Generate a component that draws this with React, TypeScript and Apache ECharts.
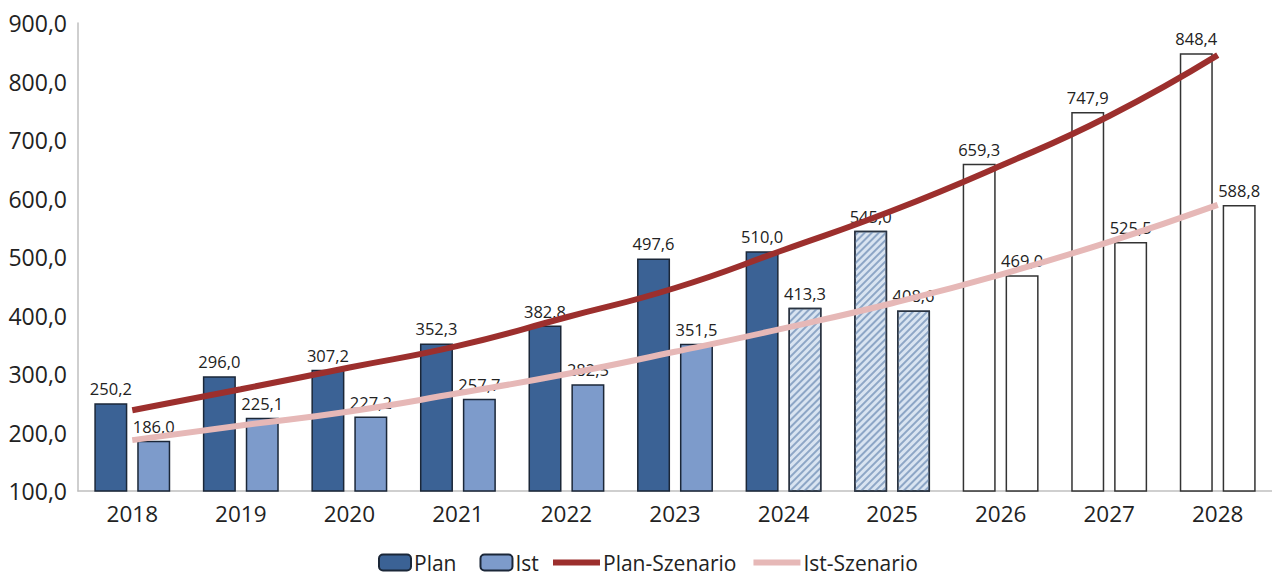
import React, { useEffect, useRef } from "react";
import * as echarts from "echarts";

const years = ["2018", "2019", "2020", "2021", "2022", "2023", "2024", "2025", "2026", "2027", "2028"];
const planValues = [250.2, 296.0, 307.2, 352.3, 382.8, 497.6, 510.0, 545.0, 659.3, 747.9, 848.4];
const istValues = [186.0, 225.1, 227.2, 257.7, 282.5, 351.5, 413.3, 408.6, 469.0, 525.5, 588.8];
const planTrend = [238, 274, 311, 348, 397, 447, 512, 579, 656, 741, 845];
const istTrend = [187, 212, 236, 267, 300, 338, 378, 421, 470, 526, 589];
const yTicks = { min: 100, max: 900, interval: 100 };

// classification of each bar: "solid", "hatched", "open"
const planKind = ["solid", "solid", "solid", "solid", "solid", "solid", "solid", "hatched", "open", "open", "open"];
const istKind = ["solid", "solid", "solid", "solid", "solid", "solid", "hatched", "hatched", "open", "open", "open"];

const FONT = "Open Sans";
const fmt = (v: number) => v.toFixed(1).replace(".", ",");

const hatchStyle = {
  color: "#D9E4F1",
  borderColor: "#2B3442",
  borderWidth: 1.5,
  decal: {
    symbol: "rect",
    symbolSize: 1,
    color: "#8DA6C6",
    dashArrayX: [1, 0],
    dashArrayY: [1.2, 2.2],
    rotation: -Math.PI / 4,
  },
};
const openStyle = { color: "#FFFFFF", borderColor: "#333333", borderWidth: 1.5 };

function build(values: number[], kinds: string[], solidColor: string) {
  return values.map((v, i) => {
    const k = kinds[i];
    let itemStyle: any = { color: solidColor, borderColor: "#1B2738", borderWidth: 1.5 };
    if (k === "hatched") itemStyle = hatchStyle;
    if (k === "open") itemStyle = openStyle;
    return { value: v, itemStyle };
  });
}

export default function App() {
  const ref = useRef<HTMLDivElement>(null);
  useEffect(() => {
    if (!ref.current) return;
    const chart = echarts.init(ref.current, null, { renderer: "svg" });
    const label = {
      show: true,
      position: "top",
      distance: 6,
      formatter: (p: any) => fmt(p.value),
      fontFamily: FONT,
      fontSize: 16.5,
      color: "#222222",
    };
    const legendText = { fontFamily: FONT, fontSize: 21, lineHeight: 20, color: "#222222", padding: [0, 0, 0, -2] };
    chart.setOption({
      animation: false,
      backgroundColor: "#FFFFFF",
      textStyle: { fontFamily: FONT },
      grid: { left: 78, right: -6, top: 23, bottom: 85, containLabel: false },
      legend: [
        {
          data: ["Plan", "Ist"],
          left: 378,
          top: 552,
          padding: 0,
          itemWidth: 32,
          itemHeight: 16,
          itemGap: 23,
          textStyle: legendText,
        },
        {
          data: [
            { name: "Plan-Szenario", icon: "rect" },
            { name: "Ist-Szenario", icon: "rect" },
          ],
          left: 553,
          top: 552,
          padding: 0,
          itemWidth: 47,
          itemHeight: 6,
          itemGap: 17,
          textStyle: legendText,
        },
      ],
      xAxis: {
        type: "category",
        data: years,
        axisTick: { show: false },
        axisLine: { show: true, lineStyle: { color: "#BFBFBF", width: 1.5 } },
        axisLabel: { fontFamily: FONT, fontSize: 22.5, color: "#222222", margin: 11 },
      },
      yAxis: {
        type: "value",
        min: yTicks.min,
        max: yTicks.max,
        interval: yTicks.interval,
        axisLine: { show: true, lineStyle: { color: "#BFBFBF", width: 1.5 } },
        axisTick: { show: false },
        splitLine: { show: false },
        axisLabel: { fontFamily: FONT, fontSize: 23, color: "#222222", margin: 11, formatter: (v: number) => fmt(v) },
      },
      series: [
        {
          name: "Plan",
          type: "bar",
          barWidth: 33,
          barGap: "30%",
          itemStyle: { color: "#3B6295", borderColor: "#1B2738", borderWidth: 1.5 },
          label,
          data: build(planValues, planKind, "#3B6295"),
        },
        {
          name: "Ist",
          type: "bar",
          barWidth: 33,
          barGap: "30%",
          itemStyle: { color: "#7D9BCB", borderColor: "#1B2738", borderWidth: 1.5 },
          label,
          data: build(istValues, istKind, "#7D9BCB"),
        },
        {
          name: "Plan-Szenario",
          type: "line",
          smooth: true,
          symbol: "none",
          z: 5,
          lineStyle: { color: "#9C2F2D", width: 6 },
          itemStyle: { color: "#9C2F2D" },
          data: planTrend,
        },
        {
          name: "Ist-Szenario",
          type: "line",
          smooth: true,
          symbol: "none",
          z: 5,
          lineStyle: { color: "#E6B8B7", width: 6 },
          itemStyle: { color: "#E6B8B7" },
          data: istTrend,
        },
      ],
    });
    return () => chart.dispose();
  }, []);
  return <div ref={ref} style={{ position: "fixed", left: 0, top: 0, width: 1272, height: 576 }} />;
}
